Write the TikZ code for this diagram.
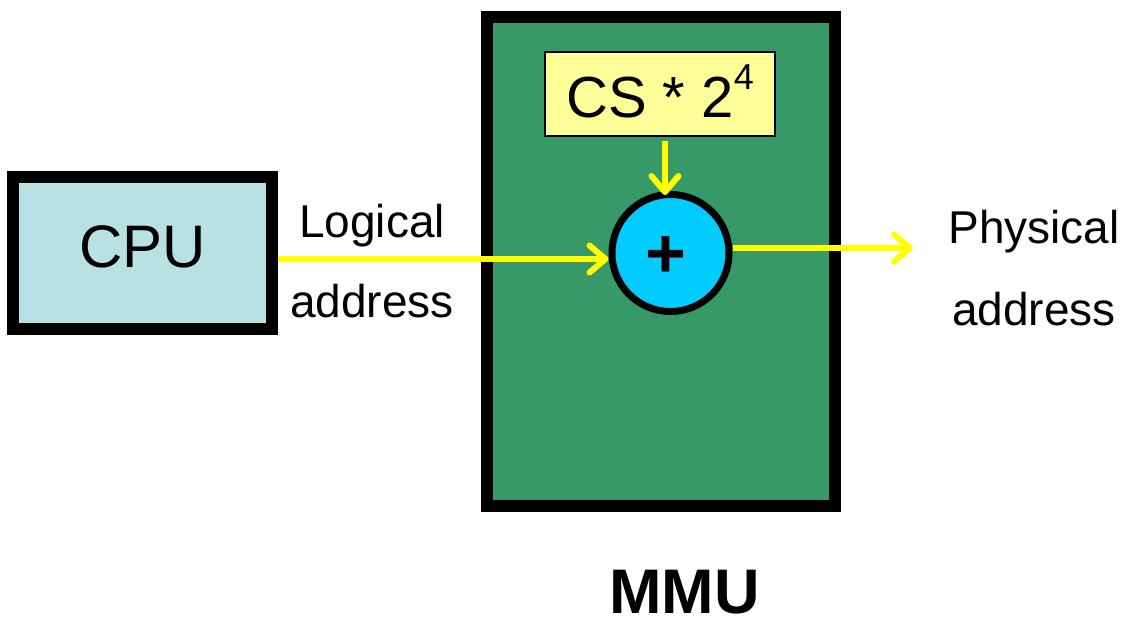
\documentclass[tikz,border=0pt]{standalone}
\usepackage{fontspec}
\setmainfont{Liberation Sans}
\usetikzlibrary{arrows.meta}
\definecolor{cpufill}{RGB}{185,224,227}
\definecolor{mmugreen}{RGB}{55,153,104}
\definecolor{csfill}{RGB}{255,255,153}
\definecolor{addcyan}{RGB}{0,204,255}
\definecolor{arrowyellow}{RGB}{255,255,0}
\tikzset{
  thickbox/.style={draw=black, line width=12pt, rectangle, inner sep=0pt},
  arr/.style={draw=arrowyellow, line width=6pt,
    -{Straight Barb[length=16pt,width=27pt,round]}},
  lbl/.style={anchor=base, inner sep=0pt, font=\fontsize{46}{46}\selectfont},
}
\begin{document}
\begin{tikzpicture}[x=1pt,y=-1pt]
\useasboundingbox (0,0) rectangle (1126,622);
% CPU
\node[thickbox, fill=cpufill, minimum width=259pt, minimum height=152pt,
  text height=43pt, text depth=15pt,
  font=\fontsize{60}{60}\selectfont] (cpu) at (142.5,253) {CPU};
% MMU box
\node[thickbox, fill=mmugreen, minimum width=348pt, minimum height=489pt]
  (mmu) at (661,261.5) {};
% CS * 2^4
\node[draw=black, line width=1.5pt, fill=csfill, rectangle, inner sep=0pt,
  minimum width=230pt, minimum height=84pt, text height=55pt, text depth=9pt,
  font=\fontsize{58}{58}\selectfont] (cs) at (660,94)
  {CS * 2\raisebox{28pt}{\fontsize{36}{36}\selectfont 4}};
% adder
\node[circle, draw=black, line width=7pt, fill=addcyan, inner sep=0pt,
  minimum size=117pt, font=\fontsize{70}{70}\selectfont\bfseries] (circ) at (670.5,253)
  {\raisebox{-24pt}[0pt][0pt]{\makebox[0pt]{\hspace*{-9pt}+}}};
% labels
\node[lbl] (log1) at (372,237) {Logical};
\node[lbl] (log2) at (372,317) {address};
\node[lbl] (phy1) at (1034,243) {Physical};
\node[lbl] (phy2) at (1034,325) {address};
\node[anchor=base, inner sep=0pt, font=\fontsize{63}{63}\selectfont\bfseries]
  (mmulbl) at (684.5,613) {MMU};
% arrows
\coordinate (out) at (913,248);
\draw[arr] ([yshift=-6pt]cpu.east) -- ([yshift=-6pt]circ.west);
\draw[arr] ([xshift=5pt,yshift=-4pt]cs.south) -- ([xshift=5pt,yshift=-4pt]cs.south |- circ.north);
\draw[arr] ([yshift=5pt]circ.east) -- (out);
\end{tikzpicture}
\end{document}
